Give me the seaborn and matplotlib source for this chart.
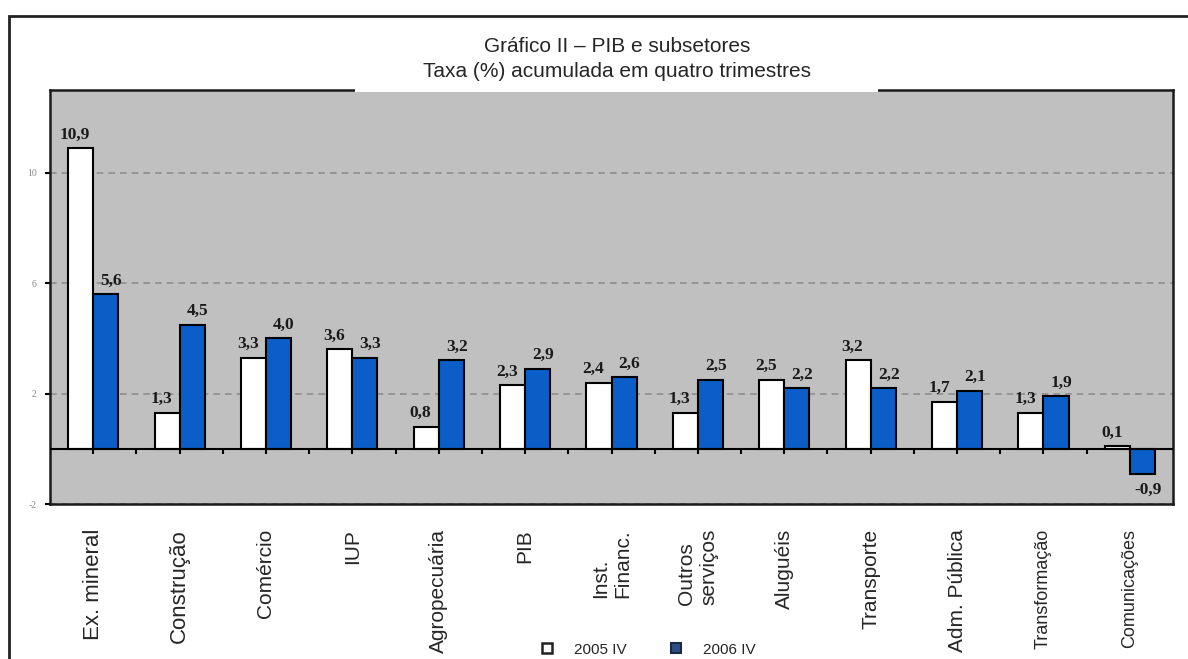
import numpy as np
import pandas as pd
import matplotlib
matplotlib.use('Agg')
import matplotlib.pyplot as plt
from matplotlib.patches import Rectangle
from matplotlib.lines import Line2D
import seaborn as sns


# =============================================================================
# Data
# =============================================================================

categories = ['Ex. mineral', 'Construção', 'Comércio', 'IUP', 'Agropecuária', 'PIB',
              'Inst.\nFinanc.', 'Outros\nserviços', 'Aluguéis', 'Transporte',
              'Adm. Pública', 'Transformação', 'Comunicações']
taxa_2005 = [10.9, 1.3, 3.3, 3.6, 0.8, 2.3, 2.4, 1.3, 2.5, 3.2, 1.7, 1.3, 0.1]
taxa_2006 = [5.6, 4.5, 4.0, 3.3, 3.2, 2.9, 2.6, 2.5, 2.2, 2.2, 2.1, 1.9, -0.9]
periods = ['2005 IV', '2006 IV']
yticks = [-2, 2, 6, 10]

title = 'Gráfico II – PIB e subsetores\nTaxa (%) acumulada em quatro trimestres'

df = pd.DataFrame({
    'setor': categories * 2,
    'periodo': [periods[0]] * len(categories) + [periods[1]] * len(categories),
    'taxa': taxa_2005 + taxa_2006,
})

# =============================================================================
# Style
# =============================================================================

sns.set_style('ticks')
plt.rcParams['font.family'] = ['Liberation Sans', 'DejaVu Sans']

blue = '#0b5ec8'
colors = {periods[0]: 'white', periods[1]: blue}
label_sizes = [16, 16, 15, 15, 15, 15, 15, 15, 15, 15, 15, 13, 13]

fig = plt.figure(figsize=(11.88, 6.59), dpi=100)
ax = fig.add_axes([0.0421, 0.2352, 0.9453, 0.6282])
ax.set_facecolor('#c0c0c0')

sns.barplot(data=df, x='setor', y='taxa', hue='periodo', order=categories,
            hue_order=periods, palette=colors, width=0.58, saturation=1,
            edgecolor='black', linewidth=1.5, errorbar=None, legend=False, ax=ax)

ax.set_ylim(-2, 13)
ax.set_yticks(yticks)
ax.set_yticklabels([str(t) for t in yticks], family='Liberation Serif')
ax.grid(axis='y', linestyle=(0, (4, 3)), color='#8e8e8e', linewidth=1.2)
ax.set_axisbelow(True)

# zero line with its small ticks
ax.axhline(0, color='black', lw=1.5, zorder=4)
ax.vlines(np.arange(0, len(categories) - 0.5, 0.5), -0.2, 0, color='black', lw=1.5, zorder=4)
ax.set_xlim(-0.5, len(categories) - 0.5)

for s in ax.spines.values():
    s.set_color('#1a1a1a')
    s.set_linewidth(1.8)

ax.tick_params(axis='y', direction='out', length=3.5, width=1.5, color='black',
               labelcolor='#8a8a8a', labelsize=7, pad=6)
ax.tick_params(axis='x', length=0, pad=18)
for lab, fs in zip(ax.get_xticklabels(), label_sizes):
    lab.set_rotation(90)
    lab.set_va('top')
    lab.set_ha('center')
    lab.set_multialignment('left')
    lab.set_fontsize(fs)
ax.set_xlabel('')
ax.set_ylabel('')

# value labels
for container, values, dx in zip(ax.containers, [taxa_2005, taxa_2006], [-4, 4]):
    for bar, v in zip(container, values):
        x = bar.get_x() + bar.get_width() / 2
        txt = f'{v:.1f}'.replace('.', ',')
        if v >= 0:
            ax.annotate(txt, (x, v), xytext=(dx, 4), textcoords='offset points',
                        ha='center', va='bottom', fontsize=12.5, weight='bold',
                        family='Liberation Serif', color='#1a1a1a', zorder=5)
        else:
            ax.annotate(txt, (x, v), xytext=(dx, -6), textcoords='offset points',
                        ha='center', va='top', fontsize=12.5, weight='bold',
                        family='Liberation Serif', color='#1a1a1a', zorder=5)

# outer frame and title box
fig.patches.append(Rectangle((0.0076, -0.1), 1.1, 0.9757 + 0.1, transform=fig.transFigure,
                             fill=False, edgecolor='#222222', lw=2, zorder=6))
fig.patches.append(Rectangle((0.2988, 0.8604), 0.4402, 0.1123, transform=fig.transFigure,
                             facecolor='white', edgecolor='none', zorder=5))
fig.text(0.5194, 0.9105, title, ha='center', va='center', fontsize=15,
         linespacing=1.4, zorder=7)

# legend
handles = [
    Line2D([], [], ls='none', marker='s', markersize=7, markerfacecolor='white',
           markeredgecolor='#222222', markeredgewidth=1.8),
    Line2D([], [], ls='none', marker='s', markersize=7, markerfacecolor='#2a4f86',
           markeredgecolor='#1b2a44', markeredgewidth=1.5),
]
fig.legend(handles, periods, loc='center', bbox_to_anchor=(0.542, 0.014), ncol=2,
           frameon=False, fontsize=11, handletextpad=0.8, columnspacing=2.2)

fig.savefig('out.png', dpi=100)
